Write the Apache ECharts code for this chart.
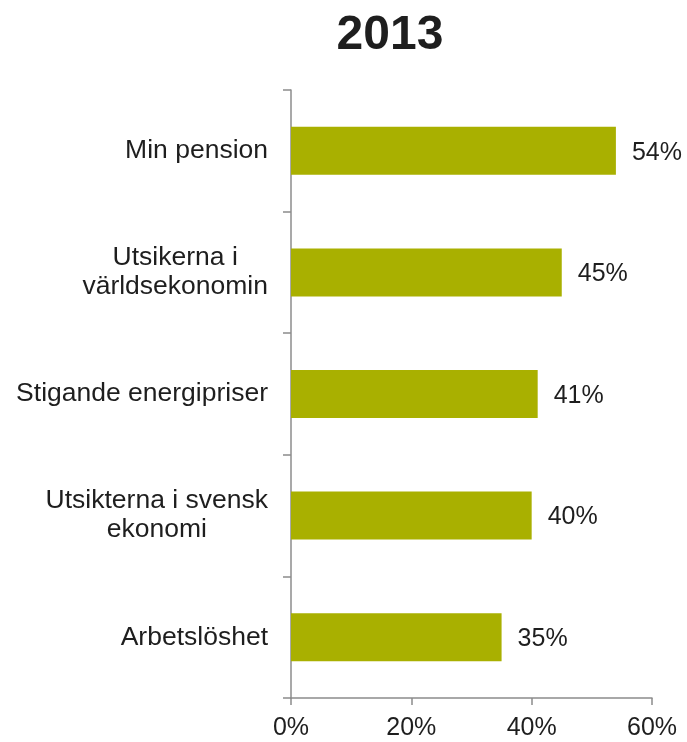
<!DOCTYPE html>
<html>
<head>
<meta charset="utf-8">
<script src="https://cdn.jsdelivr.net/npm/echarts@6/dist/echarts.min.js"></script>
<style>
  html, body { margin: 0; padding: 0; background: #fff; }
  #chart { width: 687px; height: 742px; }
</style>
</head>
<body>
<div id="chart"></div>
<script>
// categories listed bottom to top (category axis starts at the bottom)
const categories = [
  "Arbetslöshet",
  "Utsikterna i svensk\nekonomi",
  "Stigande energipriser",
  "Utsikerna i\nvärldsekonomin",
  "Min pension",
];
const values = [35, 40, 41, 45, 54];
const xTicks = [0, 20, 40, 60];

const chart = echarts.init(document.getElementById("chart"));
const font = "Liberation Sans, Arial, sans-serif";
const axisGray = "#8c8c8c";
const textColor = "#1e1e1e";

const option = {
  animation: false,
  title: {
    text: "2013",
    left: 385,
    textAlign: "center",
    top: 7,
    textStyle: {
      fontFamily: font,
      fontSize: 48,
      fontWeight: "bold",
      color: textColor,
    },
  },
  grid: {
    left: 291,
    right: 35,
    top: 90,
    bottom: 44,
  },
  xAxis: {
    type: "value",
    min: xTicks[0],
    max: xTicks[xTicks.length - 1],
    interval: 20,
    splitLine: { show: false },
    axisLine: { show: true, lineStyle: { color: axisGray, width: 1.5 } },
    axisTick: { show: true, length: 7, lineStyle: { color: axisGray, width: 1.5 } },
    axisLabel: {
      margin: 18,
      fontFamily: font,
      fontSize: 25,
      color: textColor,
      formatter: (v) => v + "%",
    },
  },
  yAxis: {
    type: "category",
    data: categories,
    axisLine: { show: true, lineStyle: { color: axisGray, width: 1.5 } },
    axisTick: {
      show: true,
      length: 8,
      lineStyle: { color: axisGray, width: 1.5 },
    },
    axisLabel: {
      margin: 23,
      formatter: (v) => "{c|" + v.split("\n").join("}\n{c|") + "}",
      rich: {
        c: {
          align: "center",
          fontFamily: font,
          fontSize: 26.5,
          lineHeight: 29,
          color: textColor,
        },
      },
    },
  },
  series: [
    {
      type: "bar",
      data: values,
      barWidth: 48,
      itemStyle: { color: "#a9b000" },
      label: {
        show: true,
        position: "right",
        distance: 16,
        offset: [0, 2],
        formatter: (p) => p.value + "%",
        fontFamily: font,
        fontSize: 25,
        color: textColor,
      },
    },
  ],
};

chart.setOption(option);
</script>
</body>
</html>
